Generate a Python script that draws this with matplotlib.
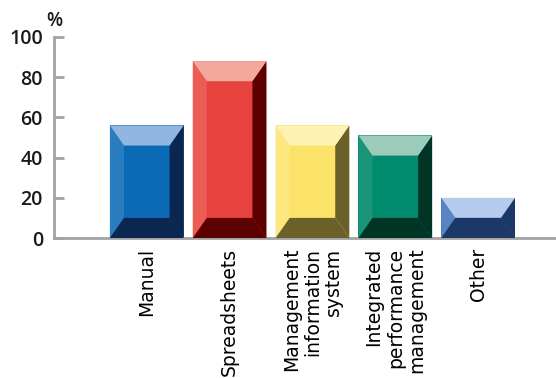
import numpy as np
import matplotlib
matplotlib.use("Agg")
import matplotlib.pyplot as plt
from matplotlib.patches import Polygon

categories = ["Manual", "Spreadsheets", "Management\ninformation\nsystem",
              "Integrated\nperformance\nmanagement", "Other"]
values = [56, 88, 56, 51, 20]

# main, light top, dark bottom, dark right side, lighter left side
colors_main = ["#0a6ab6", "#e8423f", "#fbe36a", "#008a6e", "#3f70b6"]
colors_light = ["#92b6e2", "#f4a79c", "#fdf1b4", "#9ccbbb", "#b4cbee"]
colors_dark = ["#0b2650", "#5c0000", "#6b5f2a", "#003526", "#1b3866"]
colors_left = ["#2a7cc0", "#ec5d55", "#fce87e", "#1a9579", "#5884c2"]

plt.rcParams["font.family"] = ["Open Sans", "DejaVu Sans"]

fig = plt.figure(figsize=(5.56, 3.78), dpi=100)
ax = fig.add_axes([54 / 556, 140 / 378, 1 - 54 / 556, (238 - 37) / 378])

x = np.arange(len(categories))
width = 0.89
bars = ax.bar(x, values, width=width, color=colors_main, zorder=2)

# fake bevel on each bar
bx = 0.17   # horizontal bevel (data units)
by = 10.0   # vertical bevel (data units)
for i, b in enumerate(bars):
    x0, x1 = b.get_x(), b.get_x() + b.get_width()
    h = b.get_height()
    v = min(by, h / 2)
    # left side
    ax.add_patch(Polygon([(x0, 0), (x0 + bx, v), (x0 + bx, h - v), (x0, h)],
                         closed=True, color=colors_left[i], lw=0, zorder=3))
    # right side
    ax.add_patch(Polygon([(x1, 0), (x1 - bx, v), (x1 - bx, h - v), (x1, h)],
                         closed=True, color=colors_dark[i], lw=0, zorder=3))
    # top
    ax.add_patch(Polygon([(x0, h), (x1, h), (x1 - bx, h - v), (x0 + bx, h - v)],
                         closed=True, color=colors_light[i], lw=0, zorder=4))
    # bottom
    ax.add_patch(Polygon([(x0, 0), (x1, 0), (x1 - bx, v), (x0 + bx, v)],
                         closed=True, color=colors_dark[i], lw=0, zorder=4))

ax.set_xlim(-1.12, 4.94)
ax.set_ylim(0, 100)

for s in ["top", "right"]:
    ax.spines[s].set_visible(False)
for s in ["left", "bottom"]:
    ax.spines[s].set_color("#a3a3a3")
    ax.spines[s].set_linewidth(2)

ax.set_yticks([0, 20, 40, 60, 80, 100])
ax.tick_params(axis="y", direction="in", length=7, width=2, color="#a3a3a3",
               pad=8, labelsize=14)
for lab in ax.get_yticklabels():
    lab.set_fontweight("semibold")
    lab.set_color("#1a1a1a")

ax.set_xticks(x)
ax.set_xticklabels(categories, rotation=90, fontsize=13.5, family="DejaVu Sans",
                   multialignment="right", linespacing=1.15)
ax.tick_params(axis="x", length=0, pad=7)

ax.text(0, 1.03, "%", transform=ax.transAxes, ha="center", va="bottom",
        fontsize=13.5, fontweight="semibold", color="#1a1a1a")

fig.savefig("out.png", dpi=100)
